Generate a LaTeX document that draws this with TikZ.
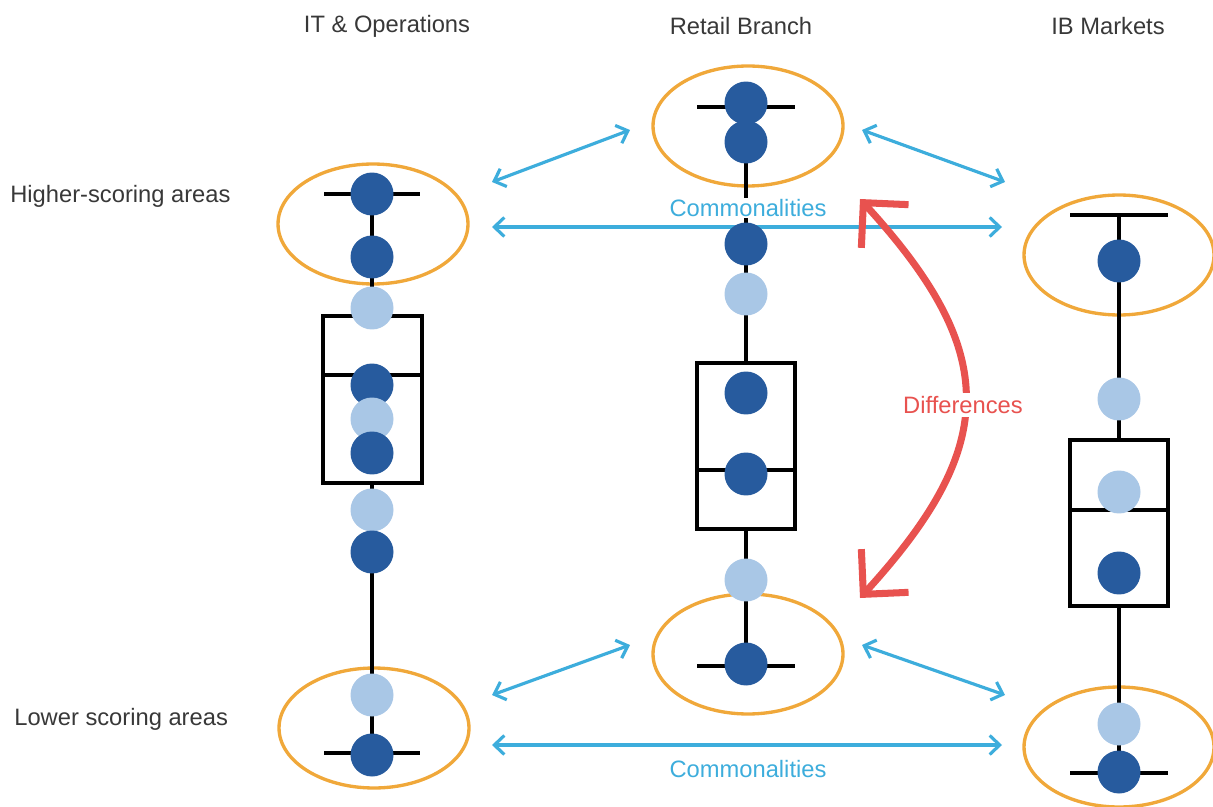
\documentclass[tikz,border=0pt]{standalone}
\usepackage{fontspec}
\setmainfont{Liberation Sans}
\usetikzlibrary{arrows.meta}
\usetikzlibrary{shapes.geometric}

\definecolor{dkblue}{HTML}{275B9E}
\definecolor{ltblue}{HTML}{A9C7E6}
\definecolor{ringorange}{HTML}{F0A83A}
\definecolor{commblue}{HTML}{3DADDC}
\definecolor{diffred}{HTML}{E8524F}
\definecolor{labelgray}{HTML}{383838}

\tikzset{
  dk/.style={shape=circle,fill=dkblue,minimum size=0.86cm,inner sep=0pt},
  lt/.style={shape=circle,fill=ltblue,minimum size=0.86cm,inner sep=0pt},
  ring/.style={shape=ellipse,draw=ringorange,line width=1.9pt,inner sep=0pt,minimum width=3.8cm,minimum height=2.4cm},
  whisk/.style={draw=black,line width=2.1pt},
  iqr/.style={draw=black,fill=white,line width=2.1pt},
  comm/.style={draw=commblue,line width=1.8pt,{Straight Barb[length=2mm,width=3.8mm]}-{Straight Barb[length=2mm,width=3.8mm]}},
  diff/.style={draw=diffred,line width=4pt,line cap=round,{Straight Barb[length=6.4mm,width=12.8mm]}-{Straight Barb[length=6.4mm,width=12.8mm]}},
  lbl/.style={text=labelgray,font=\fontsize{13.5}{16}\selectfont},
}

\begin{document}
\begin{tikzpicture}[x=0.02cm,y=-0.02cm]
    \useasboundingbox (0,0) rectangle (1213,807);

    % headings
    \node[lbl] (hIT) at (387,26) {IT \& Operations};
    \node[lbl] (hRB) at (741,26) {Retail Branch};
    \node[lbl] (hIB) at (1108,26) {IB Markets};
    \node[lbl,anchor=west,inner sep=0pt] (hHi) at (10,196) {Higher-scoring areas};
    \node[lbl,anchor=west,inner sep=0pt] (hLo) at (14,719) {Lower scoring areas};

    % rings round the extremes
    \node[ring] (itHi) at (373,224) {};
    \node[ring] (itLo) at (374,728) {};
    \node[ring] (rbHi) at (748,126) {};
    \node[ring] (rbLo) at (748,654) {};
    \node[ring] (ibHi) at (1119,255) {};
    \node[ring] (ibLo) at (1119,747) {};

    % whiskers
    \draw[whisk] (372,194) -- (372,753);
    \draw[whisk] (324,194) -- (420,194);
    \draw[whisk] (324,753) -- (420,753);
    \draw[whisk] (746,107) -- (746,664);
    \draw[whisk] (697,107) -- (795,107);
    \draw[whisk] (697,666) -- (795,666);
    \draw[whisk] (1119,215) -- (1119,773);
    \draw[whisk] (1070,215) -- (1168,215);
    \draw[whisk] (1070,773) -- (1168,773);

    % boxes with medians
    \draw[iqr] (323,316) rectangle (422,483);
    \draw[whisk] (323,375) -- (422,375);
    \draw[iqr] (697,363) rectangle (795,529);
    \draw[whisk] (697,470) -- (795,470);
    \draw[iqr] (1070,440) rectangle (1168,606);
    \draw[whisk] (1070,510) -- (1168,510);

    % commonalities
    \coordinate (c1) at (492,182);
    \coordinate (c2) at (630,130);
    \coordinate (c3) at (862,130);
    \coordinate (c4) at (1005,182);
    \coordinate (c5) at (492,227);
    \coordinate (c6) at (1002,227);
    \coordinate (c7) at (492,695);
    \coordinate (c8) at (630,645);
    \coordinate (c9) at (862,645);
    \coordinate (c10) at (1005,695);
    \coordinate (c11) at (492,745);
    \coordinate (c12) at (1002,745);
    \draw[comm] (c1) -- (c2);
    \draw[comm] (c3) -- (c4);
    \draw[comm] (c5) -- (c6);
    \draw[comm] (c7) -- (c8);
    \draw[comm] (c9) -- (c10);
    \draw[comm] (c11) -- (c12);
    \node[lbl,text=commblue,fill=white,inner sep=1pt] (cmHi) at (748,208) {Commonalities};
    \node[lbl,text=commblue] (cmLo) at (748,769) {Commonalities};

    % IT & Operations
    \node[dk] (it1) at (372,194) {};
    \node[dk] (it2) at (372,257) {};
    \node[lt] (it3) at (372,308) {};
    \node[dk] (it4) at (372,385) {};
    \node[lt] (it5) at (372,419) {};
    \node[dk] (it6) at (372,453) {};
    \node[lt] (it7) at (372,510) {};
    \node[dk] (it8) at (372,552) {};
    \node[lt] (it9) at (372,695) {};
    \node[dk] (it10) at (372,755) {};

    % Retail Branch
    \node[dk] (rb1) at (746,103) {};
    \node[dk] (rb2) at (746,142) {};
    \node[dk] (rb3) at (746,244) {};
    \node[lt] (rb4) at (746,294) {};
    \node[dk] (rb5) at (746,393) {};
    \node[dk] (rb6) at (746,474) {};
    \node[lt] (rb7) at (746,580) {};
    \node[dk] (rb8) at (746,664) {};

    % IB Markets
    \node[dk] (ib1) at (1119,261) {};
    \node[lt] (ib2) at (1119,399) {};
    \node[lt] (ib3) at (1119,492) {};
    \node[dk] (ib4) at (1119,573) {};
    \node[lt] (ib5) at (1119,724) {};
    \node[dk] (ib6) at (1119,772) {};

    % differences
    \coordinate (dTop) at (860,199);
    \coordinate (dBot) at (860,598);
    \draw[diff] (dTop) .. controls (1000,352) and (1000,445) .. (dBot);
    \node[lbl,text=diffred,fill=white,inner sep=2pt] (dLbl) at (963,405) {Differences};
\end{tikzpicture}
\end{document}
